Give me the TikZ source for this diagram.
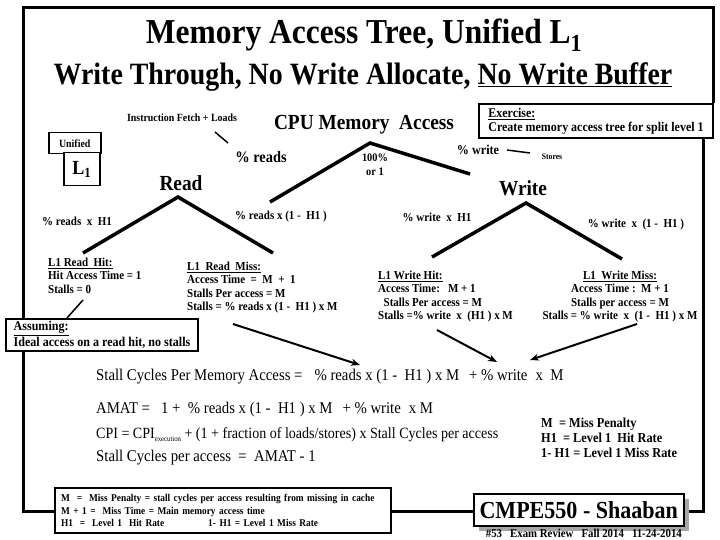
\documentclass[tikz,border=0pt]{standalone}
\usepackage{fontspec}
\setmainfont{Liberation Serif}[FakeStretch=0.9]
\usepackage{tikz}
\usetikzlibrary{arrows.meta,shadows}
\newcommand{\fsz}[2]{\fontsize{#1}{#2}\selectfont}

\tikzset{
	frame/.style={line width=3pt},
	branch/.style={line width=3.5pt},
	thinline/.style={line width=1.5pt},
	feed/.style={line width=2pt,-{Stealth[length=9pt,width=7pt]}},
	lbl/.style={inner sep=0pt,font=\bfseries\fsz{12.2}{14}},
	block/.style={inner sep=0pt,align=left,anchor=north west,font=\bfseries\fsz{12.2}{13.5}},
	formula/.style={inner sep=0pt,anchor=west,font=\fsz{16.4}{18}},
	boxed/.style={draw,fill=white,line width=2pt},
}

\begin{document}
\begin{tikzpicture}[x=1pt,y=-1pt]
	\useasboundingbox (0,0) rectangle (720,540);
	% frame
	\draw[frame] (23,318) -- (23,8) -- (713,8) -- (713,103);
	\draw[frame] (23,350) -- (23,511) -- (703,511) -- (703,137);
	% titles
	\node[font=\bfseries\fsz{35}{40}] (title) at (364,35) {Memory Access Tree, Unified L\textsubscript{1}};
	\node[font=\bfseries\fsz{31}{36}] (subtitle) at (363,77) {Write Through, No Write Allocate, \underline{No Write Buffer}};
	% top level
	\node[font=\bfseries\fsz{21.5}{24}] (cpu) at (364,125) {CPU Memory\ \ Access};
	\node[font=\bfseries\fsz{11}{12}] (ifl) at (182,118) {Instruction Fetch + Loads};
	\node[boxed,anchor=north west,minimum width=234pt,minimum height=34pt,inner xsep=7pt,align=left,font=\bfseries\fsz{13.3}{14}] (exer) at (478,103) {\underline{Exercise:}\\Create memory access tree for split level 1};
	\node[draw,thinline,anchor=north west,minimum width=52pt,minimum height=21pt,inner sep=0pt,font=\bfseries\fsz{11}{12}] (unif) at (48,132) {Unified};
	\node[draw,thinline,fill=white,anchor=north west,minimum width=36pt,minimum height=33pt,inner sep=0pt,font=\bfseries\fsz{20}{22}] (lone) at (63,152) {L\textsubscript{1}};
	\node[lbl,font=\bfseries\fsz{16}{18}] (preads) at (261,157) {\% reads};
	\node[lbl,align=center,font=\bfseries\fsz{11.5}{14}] (hundred) at (375,165) {100\%\\or 1};
	\node[lbl,font=\bfseries\fsz{13.5}{15}] (pwrite) at (478,150) {\% write};
	\node[lbl,font=\bfseries\fsz{8.5}{9}] (stores) at (552,157) {Stores};
	\node[font=\bfseries\fsz{21.5}{24}] (read) at (181,183) {Read};
	\node[font=\bfseries\fsz{21.5}{24}] (write) at (523,188) {Write};
	% tree points
	\coordinate (apex) at (370,143);
	\coordinate (rdend) at (270,202);
	\coordinate (wrend) at (470,174);
	\coordinate (rdapex) at (178,197);
	\coordinate (rhit) at (83,253);
	\coordinate (rmiss) at (273,253);
	\coordinate (wrapex) at (526,203);
	\coordinate (whit) at (432,257);
	\coordinate (wmiss) at (622,259);
	\draw[branch] (rdend) -- (apex) -- (wrend);
	\draw[branch] (rhit) -- (rdapex) -- (rmiss);
	\draw[branch] (whit) -- (wrapex) -- (wmiss);
	\coordinate (ifla) at (215,132);
	\coordinate (iflb) at (228,143);
	\coordinate (sta) at (507,150);
	\coordinate (stb) at (530,153);
	\draw[thinline] (ifla) -- (iflb);
	\draw[thinline] (sta) -- (stb);
	% branch labels
	\node[lbl] (lrh) at (77,221) {\% reads\ \ x\ \ H1};
	\node[lbl] (lrm) at (281,217) {\% reads x (1 -\ \ H1 )};
	\node[lbl] (lwh) at (437,217) {\% write\ \ x\ \ H1};
	\node[lbl] (lwm) at (636,225) {\% write\ \ x\ \ (1 -\ \ H1 )};
	% leaves
	\node[block] (readhit) at (48,257.7) {\underline{L1 Read\ \ Hit:}\\Hit Access Time = 1\\Stalls = 0};
	\node[block] (readmiss) at (187,261.7) {\underline{L1\ \ Read\ \ Miss:}\\Access Time\ \ =\ \ M\ \ +\ \ 1\\Stalls Per access = M\\Stalls = \% reads x (1 -\ \ H1 ) x M};
	\node[block] (writehit) at (378,270.7) {\underline{L1 Write Hit:}\\Access Time:\ \ \ M + 1\\\ \ Stalls Per access = M\\Stalls =\% write\ \ x\ \ (H1 ) x M};
	\node[block,align=center,anchor=north] (writemiss) at (620,270.7) {\underline{L1\ \ Write Miss:}\\Access Time :\ \ M + 1\\Stalls per access = M\\Stalls = \% write\ \ x\ \ (1 -\ \ H1 ) x M};
	\node[boxed,anchor=north west,minimum width=192pt,minimum height=32pt,inner xsep=6pt,inner ysep=2pt,align=left,font=\bfseries\fsz{13.4}{14}] (assume) at (5,318) {\underline{Assuming:}\\Ideal access on a read hit, no stalls};
	\coordinate (asa) at (83,300);
	\coordinate (asb) at (67,318);
	\draw[thinline] (asa) -- (asb);
	% feeds into the formula
	\coordinate (fa) at (233,324);
	\coordinate (fb) at (360,365);
	\coordinate (fc) at (437,330);
	\coordinate (fd) at (497,362);
	\coordinate (fe) at (637,324);
	\coordinate (ff) at (530,360);
	\draw[feed] (fa) -- (fb);
	\draw[feed] (fc) -- (fd);
	\draw[feed] (fe) -- (ff);
	% formulas
	\node[formula] (stall) at (96,377) {Stall Cycles Per Memory Access =\hspace{12pt}\% reads x (1 -\ \ H1 ) x M\hspace{10pt}+ \% write\hspace{8pt}x\ \ M};
	\node[formula] (amat) at (96,410) {AMAT =\ \ \ 1 +\ \ \% reads x (1 -\ \ H1 ) x M\hspace{10pt}+ \% write\hspace{8pt}x M};
	\node[formula,font=\fsz{15.6}{18}] (cpi) at (96,435) {CPI = CPI\raisebox{-3pt}{\fsz{7.5}{8}execution} + (1 + fraction of loads/stores) x Stall Cycles per access};
	\node[formula] (spa) at (96,458) {Stall Cycles per access\ \ =\ \ AMAT - 1};
	\node[block,font=\bfseries\fsz{13.7}{15}] (legend) at (541,418) {M\ \ = Miss Penalty\\H1\ \ = Level 1\ \ Hit Rate\\1- H1 = Level 1 Miss Rate};
	% bottom
	\node[boxed,anchor=north west,minimum width=336pt,minimum height=45pt,inner xsep=6pt,text width=324pt,align=left,font=\bfseries\fsz{10.4}{12.5}] (defs) at (54,487) {M\ \ =\ \ Miss Penalty = stall cycles per access resulting from missing in cache\\M + 1 =\ \ Miss Time = Main memory access time\\H1\ \ =\ \ Level 1\ \ Hit Rate\hspace{44pt}1- H1 = Level 1 Miss Rate};
	\node[draw,thinline,fill=white,anchor=north west,minimum width=210pt,minimum height=32pt,inner sep=0pt,drop shadow={shadow xshift=5pt,shadow yshift=-5pt,fill=gray!70,opacity=1},font=\bfseries\fsz{24.5}{26}] (cmpe) at (473,493) {CMPE550 - Shaaban};
	\node[inner sep=0pt,anchor=east,font=\bfseries\fsz{12}{13}] (foot) at (682,533) {\#53\ \ \ Exam Review\ \ \ Fall 2014\ \ \ 11-24-2014};
\end{tikzpicture}
\end{document}
